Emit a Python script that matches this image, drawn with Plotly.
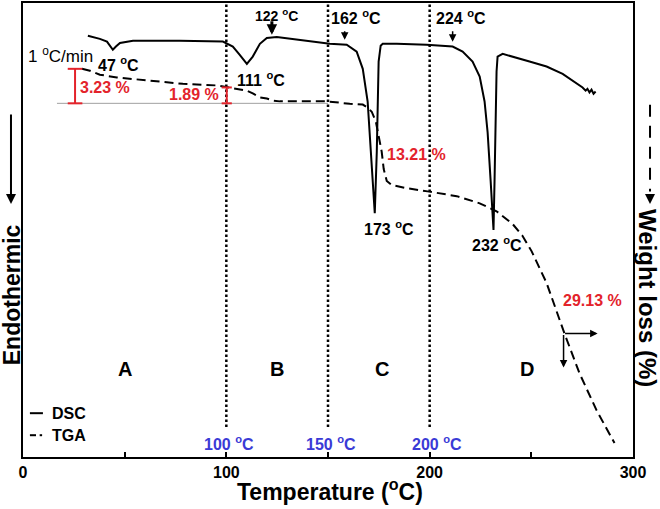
import plotly.graph_objects as go

# ---- data ----
dsc_temp = [31.9, 37.8, 41.3, 42.8, 44.2, 45.7, 47.7, 54.1, 77.1, 98.3, 103.2, 106.6, 110.1, 113.0,
            116.5, 119.9, 124.8, 150.9, 159.2, 164.1, 167.1, 169.5, 171.0, 173.0, 174.0, 174.4, 174.9,
            175.9, 176.9, 183.8, 198.5, 211.3, 216.2, 221.1, 224.6, 227.0, 228.5, 230.0, 231.4, 231.9,
            232.4, 232.9, 233.4, 235.9, 249.1, 257.5, 265.4, 273.7, 275.2, 276.7, 277.6, 278.6, 279.6,
            280.6, 281.6]
dsc_signal = [92.8, 92.1, 91.5, 90.6, 89.7, 90.4, 91.2, 91.7, 91.7, 91.5, 90.4, 88.6, 86.6, 88.2,
              91.0, 92.3, 92.5, 91.0, 90.8, 89.3, 85.5, 78.3, 67.3, 53.7, 67.3, 78.3, 87.1,
              90.6, 91.0, 91.0, 90.8, 90.4, 89.3, 87.1, 83.8, 78.3, 71.5, 60.7, 50.0, 60.7,
              73.9, 84.9, 88.2, 88.8, 87.1, 86.0, 84.4, 82.0, 81.4, 80.7, 81.1, 80.3, 80.9,
              80.0, 80.5]

tga_temp = [29.0, 32.9, 37.8, 46.2, 62.4, 78.6, 95.3, 103.2, 110.1, 113.0, 116.5, 119.9, 122.9,
            126.3, 149.4, 160.7, 167.1, 169.5, 171.5, 173.5, 174.9, 176.4, 177.4, 178.9, 181.3,
            188.7, 199.0, 213.3, 224.6, 232.9, 240.8, 245.7, 250.1, 257.5, 266.3, 273.7, 282.1, 290.9]
tga_weight = [100.0, 99.75, 99.25, 98.9, 98.5, 98.1, 97.9, 97.6, 97.25, 96.9, 96.4, 96.25, 96.0,
              95.9, 95.9, 95.6, 95.5, 95.1, 94.6, 93.4, 91.75, 89.6, 87.4, 85.9, 85.4,
              85.0, 84.6, 84.0, 83.1, 82.1, 80.5, 79.0, 77.1, 73.1, 66.75, 61.75, 57.1, 53.0]

stage_bounds = [100, 150, 200]
stage_bound_labels = ["100 <sup>o</sup>C", "150 <sup>o</sup>C", "200 <sup>o</sup>C"]
stage_names = ["A", "B", "C", "D"]
stage_name_temp = [50.1, 124.8, 176.4, 247.7]

peak_labels = ["47 <sup>o</sup>C", "111 <sup>o</sup>C", "173 <sup>o</sup>C", "232 <sup>o</sup>C"]
peak_label_pos = [(47.2, 86.6), (117.0, 83.3), (179.9, 50.4), (232.9, 46.9)]
onset_labels = ["122 <sup>o</sup>C", "162 <sup>o</sup>C", "224 <sup>o</sup>C"]
onset_label_pos = [(124.8, 97.4), (163.6, 96.9), (215.2, 96.9)]
loss_labels = ["3.23 %", "1.89 %", "13.21 %", "29.13 %"]
loss_label_pos = [(40.3, 81.4), (84.0, 79.8), (193.6, 66.7), (280.1, 34.4)]

x_ticks = [0, 50, 100, 150, 200, 250, 300]
x_tick_text = ["0", "", "100", "", "200", "", "300"]

FONT = "Liberation Sans, Arial, sans-serif"
RED = "#e3232b"
BLUE = "#3a3ad6"

fig = go.Figure()
fig.add_trace(go.Scatter(x=dsc_temp, y=dsc_signal, mode="lines", name="DSC",
                         line=dict(color="black", width=2), yaxis="y"))
fig.add_trace(go.Scatter(x=tga_temp, y=tga_weight, mode="lines", name="TGA",
                         line=dict(color="black", width=2, dash="9px,5px"), yaxis="y2"))

shapes = []
for b in stage_bounds:
    shapes.append(dict(type="line", xref="x", yref="y", x0=b, x1=b, y0=6.6, y1=100,
                       line=dict(color="black", width=2.5, dash="2.5px,2.5px")))
# gray reference line
shapes.append(dict(type="line", xref="x", yref="y", x0=16.7, x1=150, y0=77.9, y1=77.9,
                   line=dict(color="#a0a0a0", width=1)))
# red brackets
for xc, ytop, half in [(25.6, 85.5, 3.6), (100.2, 81.4, 2.5)]:
    shapes.append(dict(type="line", xref="x", yref="y", x0=xc, x1=xc, y0=77.9, y1=ytop,
                       line=dict(color=RED, width=2)))
    for yy in (77.9, ytop):
        shapes.append(dict(type="line", xref="x", yref="y", x0=xc - half, x1=xc + half, y0=yy, y1=yy,
                           line=dict(color=RED, width=2)))
# legend samples
shapes.append(dict(type="line", xref="x", yref="y", x0=3.4, x1=9.8, y0=9.65, y1=9.65,
                   line=dict(color="black", width=2)))
shapes.append(dict(type="line", xref="x", yref="y", x0=3.4, x1=6.4, y0=4.8, y1=4.8,
                   line=dict(color="black", width=2)))
shapes.append(dict(type="line", xref="x", yref="y", x0=8.2, x1=9.4, y0=4.8, y1=4.8,
                   line=dict(color="black", width=2)))
# dashed arrow shaft for right axis title
shapes.append(dict(type="line", xref="paper", yref="paper", x0=1.0279, x1=1.0279, y0=0.776, y1=0.585,
                   line=dict(color="black", width=2, dash="12px,9px")))

ann = []
def txt(x, y, t, size=16, color="black", bold=True, xanchor="center", **kw):
    ann.append(dict(x=x, y=y, xref=kw.pop("xref", "x"), yref=kw.pop("yref", "y"), text=t,
                    showarrow=False, xanchor=xanchor, yanchor="middle",
                    font=dict(family=FONT, size=size, color=color,
                              weight="bold" if bold else "normal"), **kw))

txt(18.2, 88.6, "1 <sup>o</sup>C/min", size=17, bold=False)
for t, (x, y) in zip(peak_labels, peak_label_pos):
    txt(x, y, t)
for i, (t, (x, y)) in enumerate(zip(onset_labels, onset_label_pos)):
    txt(x, y, t, size=14 if i == 0 else 16)
for t, (x, y) in zip(loss_labels, loss_label_pos):
    txt(x, y, t, color=RED)
for n, x in zip(stage_names, stage_name_temp):
    txt(x, 19.4, n, size=20)
for b, t in zip(stage_bounds, stage_bound_labels):
    txt(b + 1.5 + (2 if b == 200 else 0), 3.1, t, color=BLUE)
txt(13.3, 9.65, "DSC", xanchor="left")
txt(13.3, 4.8, "TGA", xanchor="left")

# axis titles
txt(0.503, -0.073, "Temperature (<sup>o</sup>C)", size=23, xref="paper", yref="paper")
txt(-0.0175, 0.357, "Endothermic", size=23, xref="paper", yref="paper", textangle=-90)
txt(1.0240, 0.351, "Weight loss (%)", size=24, xref="paper", yref="paper", textangle=90)

def arrow(x, y, ax, ay, width=1.5, size=1.0, head=2, xref="x", yref="y", **kw):
    ann.append(dict(x=x, y=y, xref=xref, yref=yref, ax=ax, ay=ay, text="", showarrow=True,
                    arrowhead=head, arrowsize=size, arrowwidth=width, arrowcolor="black",
                    standoff=0, startstandoff=0, **kw))

arrow(122.4, 93.0, 0, -15, width=3, size=0.7)
arrow(158.2, 91.9, 0, -10)
arrow(211.3, 91.45, 0, -12)
arrow(282.6, 27.2, 265.85, 27.2, axref="x", ayref="y")
arrow(265.85, 19.7, 265.85, 27.2, axref="x", ayref="y")
arrow(-0.0197, 0.557, 0, -91, width=2, xref="paper", yref="paper")
arrow(1.0279, 0.557, 0, -10, width=2, xref="paper", yref="paper")

fig.update_layout(
    width=660, height=509,
    margin=dict(l=23, r=27, t=1, b=52),
    paper_bgcolor="white", plot_bgcolor="white",
    showlegend=False,
    shapes=shapes, annotations=ann,
    xaxis=dict(range=[0, 300], tickvals=x_ticks, ticktext=x_tick_text, ticks="inside", ticklen=5,
               tickwidth=2, tickcolor="black", showline=True, linewidth=2, linecolor="black",
               mirror=True, showgrid=False, zeroline=False,
               tickfont=dict(family=FONT, size=16, color="black", weight="bold")),
    yaxis=dict(range=[0, 100], showticklabels=False, ticks="", showline=True, linewidth=2,
               linecolor="black", mirror=True, showgrid=False, zeroline=False),
    yaxis2=dict(range=[51.25, 108.25], overlaying="y", side="right", showticklabels=False,
                ticks="", showline=False, showgrid=False, zeroline=False),
)

fig.write_html("out.html", config={"displayModeBar": False},
               post_script="document.body.style.margin='0px';document.body.style.overflow='hidden';")
